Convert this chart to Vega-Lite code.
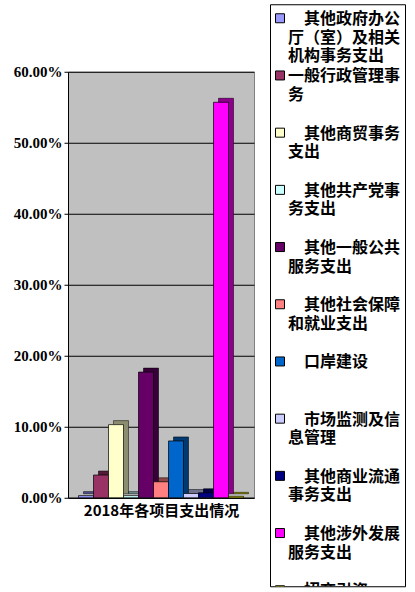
{
  "$schema": "https://vega.github.io/schema/vega-lite/v6.json",
  "padding": {"left": 12, "top": 3, "right": 5, "bottom": 2},
  "background": "white",
  "center": true,
  "spacing": 14,
  "config": {"font": "Noto Sans CJK SC"},
  "data": {
    "values": [
      {"order": 1, "name": "其他政府办公厅（室）及相关机构事务支出", "label": "\u200b\u3000其他政府办公\n厅（室）及相关\n机构事务支出", "value": 0.003},
      {"order": 2, "name": "一般行政管理事务", "label": "一般行政管理事\n务", "value": 0.032},
      {"order": 3, "name": "其他商贸事务支出", "label": "\u200b\u3000其他商贸事务\n支出", "value": 0.103},
      {"order": 4, "name": "其他共产党事务支出", "label": "\u200b\u3000其他共产党事\n务支出", "value": 0.003},
      {"order": 5, "name": "其他一般公共服务支出", "label": "\u200b\u3000其他一般公共\n服务支出", "value": 0.177},
      {"order": 6, "name": "其他社会保障和就业支出", "label": "\u200b\u3000其他社会保障\n和就业支出", "value": 0.0225},
      {"order": 7, "name": "口岸建设", "label": "\u200b\u3000口岸建设", "value": 0.08},
      {"order": 8, "name": "市场监测及信息管理", "label": "\u200b\u3000市场监测及信\n息管理", "value": 0.006},
      {"order": 9, "name": "其他商业流通事务支出", "label": "\u200b\u3000其他商业流通\n事务支出", "value": 0.007},
      {"order": 10, "name": "其他涉外发展服务支出", "label": "\u200b\u3000其他涉外发展\n服务支出", "value": 0.557},
      {"order": 11, "name": "招商引资", "label": "\u200b\u3000招商引资", "value": 0.002}
    ]
  },
  "hconcat": [
    {
      "width": 186,
      "height": 426,
      "view": {"fill": "#C0C0C0", "stroke": "#808080"},
      "encoding": {
        "x": {
          "field": "name", "type": "nominal",
          "sort": {"field": "order", "op": "min"},
          "scale": {"paddingInner": 0, "paddingOuter": 0.7},
          "axis": {"labels": false, "ticks": false, "grid": false, "domainColor": "black",
                   "title": "2018年各项目支出情况", "titleFont": "Noto Sans CJK SC", "titleFontSize": 15,
                   "titleFontWeight": "bold", "titleColor": "black", "titlePadding": 6}
        },
        "y": {
          "field": "value", "type": "quantitative",
          "scale": {"domain": [0, 0.6], "nice": false},
          "axis": {"values": [0, 0.1, 0.2, 0.3, 0.4, 0.5, 0.6], "format": ".2%", "title": null,
                   "labelFont": "Liberation Serif", "labelFontSize": 15, "labelFontWeight": "bold",
                   "labelColor": "black", "domainColor": "black", "tickColor": "black", "tickSize": 4,
                   "labelPadding": 2, "gridColor": "black", "gridOpacity": 1}
        },
        "color": {
          "field": "name", "type": "nominal", "legend": null,
          "scale": {
            "domain": ["其他政府办公厅（室）及相关机构事务支出", "一般行政管理事务", "其他商贸事务支出", "其他共产党事务支出", "其他一般公共服务支出", "其他社会保障和就业支出", "口岸建设", "市场监测及信息管理", "其他商业流通事务支出", "其他涉外发展服务支出", "招商引资"],
            "range": ["#9999FF", "#993366", "#FFFFCC", "#CCFFFF", "#660066", "#FF8080", "#0066CC", "#CCCCFF", "#000080", "#FF00FF", "#FFFF00"]
          }
        }
      },
      "layer": [
        {"mark": {"type": "bar", "xOffset": 5, "yOffset": -4, "stroke": "black", "strokeWidth": 0.5, "opacity": 1}},
        {"mark": {"type": "bar", "xOffset": 5, "yOffset": -4, "opacity": 0.45, "strokeWidth": 0},
         "encoding": {"color": {"value": "black"}}},
        {"mark": {"type": "bar", "stroke": "black", "strokeWidth": 0.7, "opacity": 1}}
      ]
    },
    {
      "width": 135,
      "height": 582,
      "view": {"fill": "white", "stroke": "black", "strokeWidth": 1},
      "encoding": {
        "y": {"field": "order", "type": "quantitative",
              "scale": {"domain": [0.755, 10.93], "reverse": true, "nice": false, "zero": false},
              "axis": null}
      },
      "layer": [
        {
          "mark": {"type": "square", "size": 81, "stroke": "black", "strokeWidth": 1, "filled": true, "opacity": 1, "clip": true},
          "encoding": {
            "x": {"datum": 10, "type": "quantitative", "scale": {"domain": [0, 135], "nice": false, "zero": false}, "axis": null},
            "color": {"field": "name", "type": "nominal", "legend": null}
          }
        },
        {
          "mark": {"type": "text", "align": "left", "baseline": "top", "dy": -7, "lineBreak": "\n", "lineHeight": 18.5,
                   "font": "Noto Sans CJK SC", "fontSize": 16, "fontWeight": "bold", "color": "black", "clip": true},
          "encoding": {
            "x": {"datum": 18, "type": "quantitative"},
            "text": {"field": "label"}
          }
        }
      ]
    }
  ]
}
